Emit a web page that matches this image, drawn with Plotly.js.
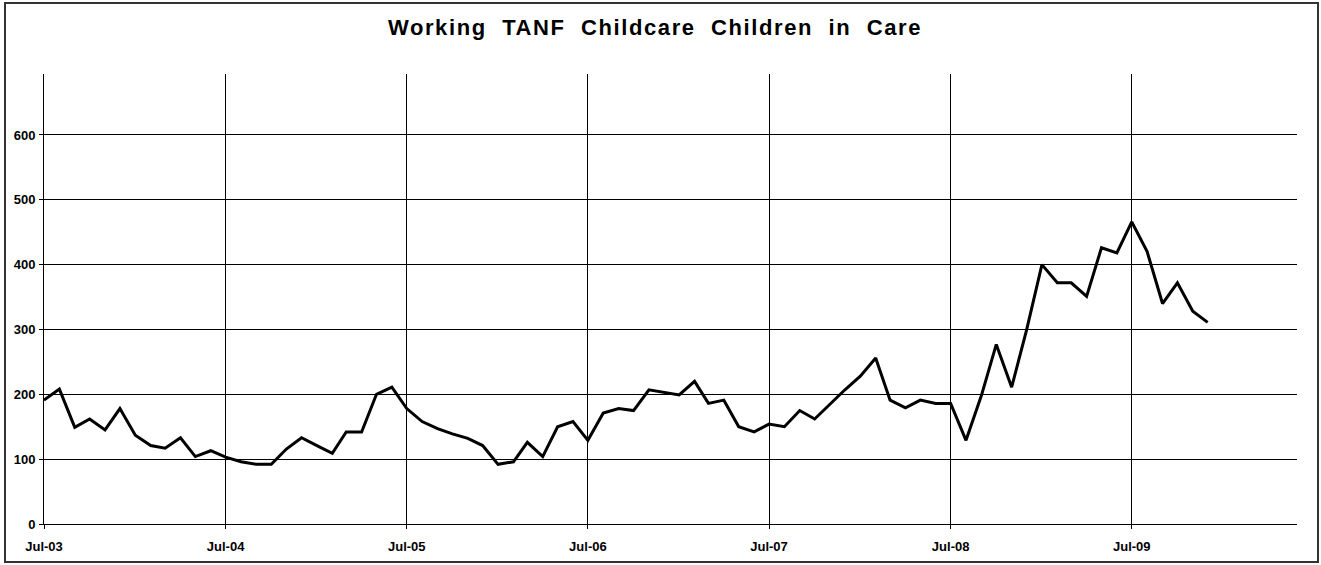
<!DOCTYPE html>
<html>
<head>
<meta charset="utf-8">
<script src="https://cdn.plot.ly/plotly-3.0.1.min.js"></script>
<style>
  html, body { margin: 0; padding: 0; background: #fff; }
  #chart { position: absolute; left: 0; top: 0; width: 1321px; height: 565px; }
  #frame { position: absolute; left: 4px; top: 2px; width: 1315px; height: 561px;
           border: 2px solid #333; box-sizing: border-box; pointer-events: none; }
  .gtitle { letter-spacing: 1.6px; }
</style>
</head>
<body>
<div id="chart"></div>
<div id="frame"></div>
<script>
// Months (first of month) for each observation
const months = [
  "2003-07-01","2003-08-01","2003-09-01","2003-10-01","2003-11-01","2003-12-01",
  "2004-01-01","2004-02-01","2004-03-01","2004-04-01","2004-05-01","2004-06-01",
  "2004-07-01","2004-08-01","2004-09-01","2004-10-01","2004-11-01","2004-12-01",
  "2005-01-01","2005-02-01","2005-03-01","2005-04-01","2005-05-01","2005-06-01",
  "2005-07-01","2005-08-01","2005-09-01","2005-10-01","2005-11-01","2005-12-01",
  "2006-01-01","2006-02-01","2006-03-01","2006-04-01","2006-05-01","2006-06-01",
  "2006-07-01","2006-08-01","2006-09-01","2006-10-01","2006-11-01","2006-12-01",
  "2007-01-01","2007-02-01","2007-03-01","2007-04-01","2007-05-01","2007-06-01",
  "2007-07-01","2007-08-01","2007-09-01","2007-10-01","2007-11-01","2007-12-01",
  "2008-01-01","2008-02-01","2008-03-01","2008-04-01","2008-05-01","2008-06-01",
  "2008-07-01","2008-08-01","2008-09-01","2008-10-01","2008-11-01","2008-12-01",
  "2009-01-01","2009-02-01","2009-03-01","2009-04-01","2009-05-01","2009-06-01",
  "2009-07-01","2009-08-01","2009-09-01","2009-10-01","2009-11-01","2009-12-01"
];

// Children in care
const childrenInCare = [
  191, 208, 149, 162, 145, 178,
  137, 121, 117, 133, 104, 113,
  103, 96, 92, 92, 116, 133,
  121, 109, 142, 142, 200, 211,
  178, 158, 147, 139, 132, 121,
  92, 96, 126, 104, 150, 158,
  129, 171, 178, 175, 207, 203,
  199, 220, 186, 191, 150, 142,
  154, 150, 175, 162, 185, 207,
  228, 256, 191, 179, 191, 186,
  186, 129, 198, 277, 211, 299,
  400, 372, 372, 351, 426, 418,
  466, 420, 340, 372, 328, 311
];

const xTickValues = ["2003-07-01","2004-07-01","2005-07-01","2006-07-01","2007-07-01","2008-07-01","2009-07-01"];
const xTickLabels = ["Jul-03","Jul-04","Jul-05","Jul-06","Jul-07","Jul-08","Jul-09"];
const yTickValues = [0, 100, 200, 300, 400, 500, 600];
const yTickLabels = ["0", "100", "200", "300", "400", "500", "600"];
const chartTitle = "Working\u00a0\u00a0TANF\u00a0\u00a0Childcare\u00a0\u00a0Children\u00a0\u00a0in\u00a0\u00a0Care";

const font = "Liberation Sans, Arial, Helvetica, sans-serif";

const trace = {
  x: months,
  y: childrenInCare,
  type: "scatter",
  mode: "lines",
  line: { color: "#000", width: 3 },
  hoverinfo: "x+y"
};

const layout = {
  width: 1321,
  height: 565,
  margin: { l: 44, r: 24, t: 74, b: 41, pad: 0 },
  paper_bgcolor: "#fff",
  plot_bgcolor: "#fff",
  showlegend: false,
  title: {
    text: "<b>" + chartTitle + "</b>",
    font: { family: font, size: 22, color: "#000" },
    xref: "container", x: 655 / 1321, xanchor: "center",
    yref: "container", y: 1 - 27 / 565, yanchor: "middle"
  },
  xaxis: {
    type: "date",
    range: ["2003-07-01", "2010-05-30"],
    tickmode: "array",
    tickvals: xTickValues,
    ticktext: xTickLabels,
    showgrid: true,
    gridcolor: "#000",
    gridwidth: 1,
    showline: true,
    linecolor: "#000",
    linewidth: 1,
    ticks: "outside",
    ticklen: 4,
    tickcolor: "#000",
    ticklabelstandoff: 6,
    tickfont: { family: font, size: 13, color: "#000", weight: "bold" },
    zeroline: false,
    fixedrange: true
  },
  yaxis: {
    range: [0, 694],
    tickmode: "array",
    tickvals: yTickValues,
    ticktext: yTickLabels,
    showgrid: true,
    gridcolor: "#000",
    gridwidth: 1,
    showline: true,
    linecolor: "#000",
    linewidth: 1,
    ticks: "outside",
    ticklen: 4,
    tickcolor: "#000",
    ticklabelstandoff: 1,
    tickfont: { family: font, size: 13, color: "#000", weight: "bold" },
    zeroline: false,
    fixedrange: true
  }
};

Plotly.newPlot("chart", [trace], layout, { displayModeBar: false, staticPlot: true });
</script>
</body>
</html>
